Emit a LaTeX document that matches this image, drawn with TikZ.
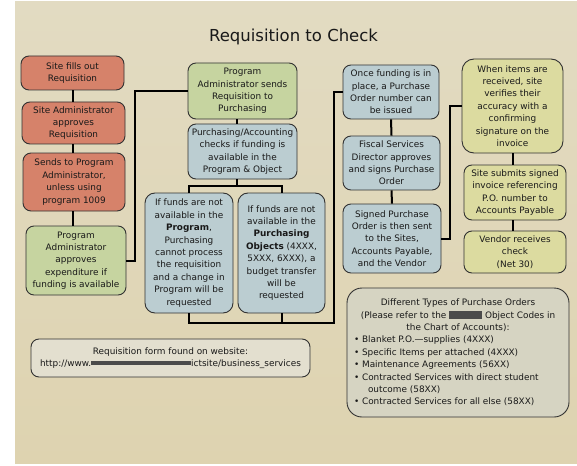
\documentclass[tikz,border=0pt]{standalone}
\usepackage{fontspec}
\setmainfont{DejaVu Sans}
\definecolor{paperT}{RGB}{226,219,194}
\definecolor{paperB}{RGB}{222,211,176}
\definecolor{salmonf}{RGB}{214,130,106}
\definecolor{greenf}{RGB}{198,212,160}
\definecolor{bluef}{RGB}{187,205,209}
\definecolor{yellowf}{RGB}{220,219,160}
\definecolor{webf}{RGB}{227,223,207}
\definecolor{typesf}{RGB}{214,212,194}
\definecolor{boxline}{RGB}{50,50,50}
\definecolor{textc}{RGB}{25,25,25}
\definecolor{redactc}{RGB}{75,75,75}
\newcommand{\myredact}[1]{\textcolor{redactc}{\rule[-0.5pt]{#1}{8pt}}}
\newcommand{\myscribble}[1]{\textcolor{redactc}{\rule[1.2pt]{#1}{4pt}}}
\tikzset{
  box/.style={draw=boxline, line width=0.9pt, rounded corners=8pt, inner sep=0pt,
    align=center, text=textc, font=\fontsize{8.9}{12.4}\selectfont},
  conn/.style={draw=black, line width=2pt},
}
\begin{document}
\begin{tikzpicture}[x=1pt,y=-1pt]
\useasboundingbox (0,0) rectangle (577,465);
\fill[white] (0,0) rectangle (577,465);
\shade[top color=paperT, bottom color=paperB] (15,2) rectangle (577,463);

\node[text=textc, font=\fontsize{16.5}{20}\selectfont, anchor=base] (title) at (293.5,41.7) {Requisition to Check};

% left column
\node[box, fill=salmonf, minimum width=103pt, minimum height=34pt] (b1) at (72.5,73) {Site fills out\\Requisition};
\node[box, fill=salmonf, minimum width=103pt, minimum height=42pt] (b2) at (73.5,123) {Site Administrator\\approves\\Requisition};
\node[box, fill=salmonf, minimum width=102pt, minimum height=58pt] (b3) at (74,182) {Sends to Program\\Administrator,\\unless using\\program 1009};
\node[box, fill=greenf, minimum width=100pt, minimum height=69pt] (b4) at (76,260.5) {Program\\Administrator\\approves\\expenditure if\\funding is available};

% center column
\node[box, fill=greenf, minimum width=109pt, minimum height=56pt] (b5) at (242.5,91) {Program\\Administrator sends\\Requisition to\\Purchasing};
\node[box, fill=bluef, minimum width=109pt, minimum height=55pt] (b6) at (242.5,151.5) {Purchasing/Accounting\\checks if funding is\\available in the\\Program \& Object};
\node[box, fill=bluef, minimum width=88pt, minimum height=120pt, rounded corners=10pt] (b7) at (189,253) {If funds are not\\available in the\\\textbf{Program},\\Purchasing\\cannot process\\the requisition\\and a change in\\Program will be\\requested};
\node[box, fill=bluef, minimum width=87pt, minimum height=120pt, rounded corners=10pt] (b8) at (281.5,253) {If funds are not\\available in the\\\textbf{Purchasing}\\\textbf{Objects} (4XXX,\\5XXX, 6XXX), a\\budget transfer\\will be\\requested};

% right-middle column
\node[box, fill=bluef, minimum width=96pt, minimum height=54pt] (b9) at (391,92) {Once funding is in\\place, a Purchase\\Order number can\\be issued};
\node[box, fill=bluef, minimum width=97pt, minimum height=54pt] (b10) at (391.5,163) {Fiscal Services\\Director approves\\and signs Purchase\\Order};
\node[box, fill=bluef, minimum width=98pt, minimum height=69pt] (b11) at (392,238.5) {Signed Purchase\\Order is then sent\\to the Sites,\\Accounts Payable,\\and the Vendor};

% right column
\node[box, fill=yellowf, minimum width=101pt, minimum height=94pt, rounded corners=12pt] (b12) at (512.5,106) {When items are\\received, site\\verifies their\\accuracy with a\\confirming\\signature on the\\invoice};
\node[box, fill=yellowf, minimum width=102pt, minimum height=55pt] (b13) at (515,192.5) {Site submits signed\\invoice referencing\\P.O. number to\\Accounts Payable};
\node[box, fill=yellowf, minimum width=102pt, minimum height=42pt] (b14) at (515,252) {Vendor receives\\check\\(Net 30)};

% bottom boxes
\node[box, fill=webf, minimum width=279pt, minimum height=38pt] (b15) at (170.5,358) {Requisition form found on website:\\http://www.\myscribble{100pt}ictsite/business\_services};
\node[box, fill=typesf, minimum width=222pt, minimum height=129pt, rounded corners=15pt, align=left] (b16) at (458,352.5) {%
\makebox[208pt][c]{Different Types of Purchase Orders}\\
\makebox[208pt][c]{(Please refer to the \myredact{33pt} Object Codes in}\\
\makebox[208pt][c]{the Chart of Accounts):}\\
• Blanket P.O.—supplies (4XXX)\\
• Specific Items per attached (4XXX)\\
• Maintenance Agreements (56XX)\\
• Contracted Services with direct student\\
\hspace*{14pt}outcome (58XX)\\
• Contracted Services for all else (58XX)};

% connectors
\draw[conn] (b1.south) -- (b1.south |- b2.north);
\draw[conn] (b1.south |- b2.south) -- (b1.south |- b3.north);
\draw[conn] (b1.south |- b3.south) -- (b1.south |- b4.north);
\draw[conn] (b4.east) -- ++(9,0) |- (b5.west);
\draw[conn] ([xshift=-6pt]b5.south) -- ([xshift=-6pt]b6.north);
\coordinate (s1) at ([xshift=-6pt,yshift=-7pt]b6.south);
\draw[conn] ([xshift=-6pt]b6.south) -- (s1);
\draw[conn] (b7.north) |- (s1) -| (b8.north);
\coordinate (j1) at (334,323);
\draw[conn] (b7.south) |- (j1) |- (b9.west);
\draw[conn] (b8.south) -- (b8.south |- j1);
\draw[conn] (b9.south) -- (b10.north);
\draw[conn] (b10.south) -- (b11.north);
\coordinate (j2) at (450,238.5);
\draw[conn] (b11.east) -- (j2) |- (b12.west);
\draw[conn] (b12.south) -- (b12.south |- b13.north);
\draw[conn] (b12.south |- b13.south) -- (b12.south |- b14.north);
\end{tikzpicture}
\end{document}
